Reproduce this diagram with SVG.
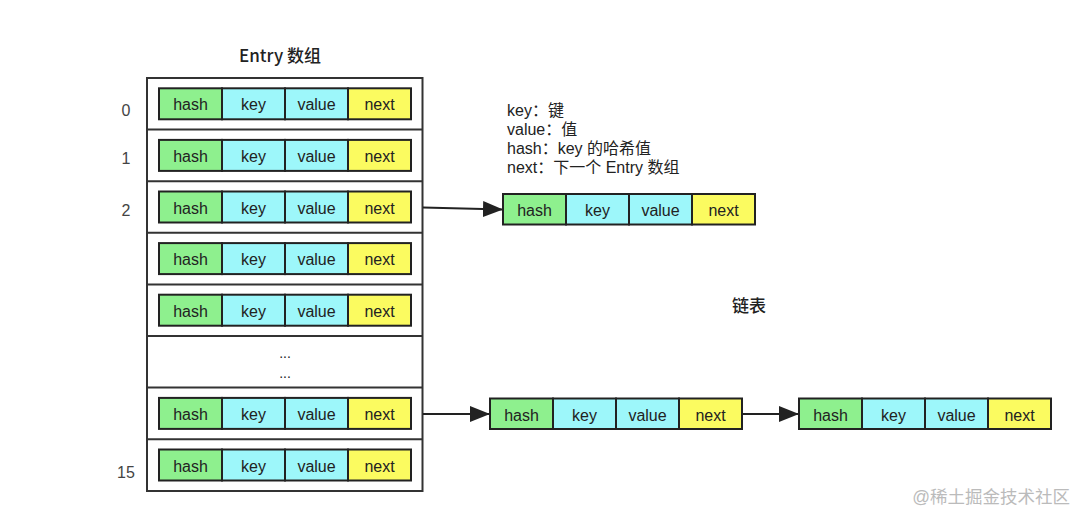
<svg xmlns="http://www.w3.org/2000/svg" width="1080" height="525" viewBox="0 0 1080 525">
<style>
text{font-family:"Liberation Sans","Noto Sans CJK SC",sans-serif;fill:#222}
.c{font-size:16px;text-anchor:middle}
.h{fill:#8EF08E;stroke:#222;stroke-width:2}
.k{fill:#9DF7FA;stroke:#222;stroke-width:2}
.n{fill:#FBFB60;stroke:#222;stroke-width:2}
.idx{font-size:16px;text-anchor:middle;fill:#444}
.leg{font-size:16px}
.ttl{font-family:"Noto Sans CJK SC","Liberation Sans",sans-serif;font-size:17px;text-anchor:middle;font-weight:500}
.frame{fill:#fff;stroke:#333;stroke-width:2}
.div{stroke:#333;stroke-width:2}
.arr{stroke:#222;stroke-width:2;fill:none;marker-end:url(#ah)}
</style>
<defs>
<marker id="ah" markerUnits="userSpaceOnUse" markerWidth="20" markerHeight="16" refX="20" refY="8" orient="auto">
<path d="M0,0 L20,8 L0,16 z" fill="#222"/>
</marker>
</defs>
<rect width="1080" height="525" fill="#fff"/>
<text class="ttl" x="280" y="62">Entry 数组</text>
<g id="array">
<rect class="frame" x="147" y="78" width="275.5" height="413"/>
<line class="div" x1="147" y1="129.6" x2="422.5" y2="129.6"/>
<line class="div" x1="147" y1="181.2" x2="422.5" y2="181.2"/>
<line class="div" x1="147" y1="232.8" x2="422.5" y2="232.8"/>
<line class="div" x1="147" y1="284.4" x2="422.5" y2="284.4"/>
<line class="div" x1="147" y1="336" x2="422.5" y2="336"/>
<line class="div" x1="147" y1="387.6" x2="422.5" y2="387.6"/>
<line class="div" x1="147" y1="439.2" x2="422.5" y2="439.2"/>
</g>
<g id="labels">
<text class="idx" x="126" y="116">0</text>
<text class="idx" x="126" y="164">1</text>
<text class="idx" x="126" y="216">2</text>
<text class="idx" x="126" y="478">15</text>
</g>
<g id="entry0" transform="translate(159,88.3)">
<rect class="h" x="0" y="0" width="63" height="31"/><rect class="k" x="63" y="0" width="63" height="31"/><rect class="k" x="126" y="0" width="63" height="31"/><rect class="n" x="189" y="0" width="63" height="31"/>
<text class="c" x="31.5" y="22">hash</text><text class="c" x="94.5" y="22">key</text><text class="c" x="157.5" y="22">value</text><text class="c" x="220.5" y="22">next</text>
</g>
<g id="entry1" transform="translate(159,139.9)">
<rect class="h" x="0" y="0" width="63" height="31"/><rect class="k" x="63" y="0" width="63" height="31"/><rect class="k" x="126" y="0" width="63" height="31"/><rect class="n" x="189" y="0" width="63" height="31"/>
<text class="c" x="31.5" y="22">hash</text><text class="c" x="94.5" y="22">key</text><text class="c" x="157.5" y="22">value</text><text class="c" x="220.5" y="22">next</text>
</g>
<g id="entry2" transform="translate(159,191.5)">
<rect class="h" x="0" y="0" width="63" height="31"/><rect class="k" x="63" y="0" width="63" height="31"/><rect class="k" x="126" y="0" width="63" height="31"/><rect class="n" x="189" y="0" width="63" height="31"/>
<text class="c" x="31.5" y="22">hash</text><text class="c" x="94.5" y="22">key</text><text class="c" x="157.5" y="22">value</text><text class="c" x="220.5" y="22">next</text>
</g>
<g id="entry3" transform="translate(159,243.1)">
<rect class="h" x="0" y="0" width="63" height="31"/><rect class="k" x="63" y="0" width="63" height="31"/><rect class="k" x="126" y="0" width="63" height="31"/><rect class="n" x="189" y="0" width="63" height="31"/>
<text class="c" x="31.5" y="22">hash</text><text class="c" x="94.5" y="22">key</text><text class="c" x="157.5" y="22">value</text><text class="c" x="220.5" y="22">next</text>
</g>
<g id="entry4" transform="translate(159,294.7)">
<rect class="h" x="0" y="0" width="63" height="31"/><rect class="k" x="63" y="0" width="63" height="31"/><rect class="k" x="126" y="0" width="63" height="31"/><rect class="n" x="189" y="0" width="63" height="31"/>
<text class="c" x="31.5" y="22">hash</text><text class="c" x="94.5" y="22">key</text><text class="c" x="157.5" y="22">value</text><text class="c" x="220.5" y="22">next</text>
</g>
<g id="ellipsis">
<text class="c" x="285" y="358" style="font-size:14px">...</text>
<text class="c" x="285" y="378" style="font-size:14px">...</text>
</g>
<g id="entry6" transform="translate(159,397.9)">
<rect class="h" x="0" y="0" width="63" height="31"/><rect class="k" x="63" y="0" width="63" height="31"/><rect class="k" x="126" y="0" width="63" height="31"/><rect class="n" x="189" y="0" width="63" height="31"/>
<text class="c" x="31.5" y="22">hash</text><text class="c" x="94.5" y="22">key</text><text class="c" x="157.5" y="22">value</text><text class="c" x="220.5" y="22">next</text>
</g>
<g id="entry15" transform="translate(159,449.5)">
<rect class="h" x="0" y="0" width="63" height="31"/><rect class="k" x="63" y="0" width="63" height="31"/><rect class="k" x="126" y="0" width="63" height="31"/><rect class="n" x="189" y="0" width="63" height="31"/>
<text class="c" x="31.5" y="22">hash</text><text class="c" x="94.5" y="22">key</text><text class="c" x="157.5" y="22">value</text><text class="c" x="220.5" y="22">next</text>
</g>
<g id="legend">
<text class="leg" x="507" y="116">key：键</text>
<text class="leg" x="507" y="135">value：值</text>
<text class="leg" x="507" y="154">hash：key 的哈希值</text>
<text class="leg" x="507" y="173">next：下一个 Entry 数组</text>
</g>
<g id="nodeA" transform="translate(503,194)">
<rect class="h" x="0" y="0" width="63" height="30.5"/><rect class="k" x="63" y="0" width="63" height="30.5"/><rect class="k" x="126" y="0" width="63" height="30.5"/><rect class="n" x="189" y="0" width="63" height="30.5"/>
<text class="c" x="31.5" y="22">hash</text><text class="c" x="94.5" y="22">key</text><text class="c" x="157.5" y="22">value</text><text class="c" x="220.5" y="22">next</text>
</g>
<g id="nodeB" transform="translate(490,398.5)">
<rect class="h" x="0" y="0" width="63" height="30.5"/><rect class="k" x="63" y="0" width="63" height="30.5"/><rect class="k" x="126" y="0" width="63" height="30.5"/><rect class="n" x="189" y="0" width="63" height="30.5"/>
<text class="c" x="31.5" y="22">hash</text><text class="c" x="94.5" y="22">key</text><text class="c" x="157.5" y="22">value</text><text class="c" x="220.5" y="22">next</text>
</g>
<g id="nodeC" transform="translate(799,398.5)">
<rect class="h" x="0" y="0" width="63" height="30.5"/><rect class="k" x="63" y="0" width="63" height="30.5"/><rect class="k" x="126" y="0" width="63" height="30.5"/><rect class="n" x="189" y="0" width="63" height="30.5"/>
<text class="c" x="31.5" y="22">hash</text><text class="c" x="94.5" y="22">key</text><text class="c" x="157.5" y="22">value</text><text class="c" x="220.5" y="22">next</text>
</g>
<text class="ttl" x="749" y="312">链表</text>
<g id="connectors">
<line class="arr" x1="423" y1="207.5" x2="503" y2="209.5"/>
<line class="arr" x1="423" y1="414" x2="490" y2="414"/>
<line class="arr" x1="742" y1="414" x2="799" y2="414"/>
</g>
<text x="1070" y="503" style="font-size:17.5px;fill:#bbb;text-anchor:end">@稀土掘金技术社区</text>
</svg>
